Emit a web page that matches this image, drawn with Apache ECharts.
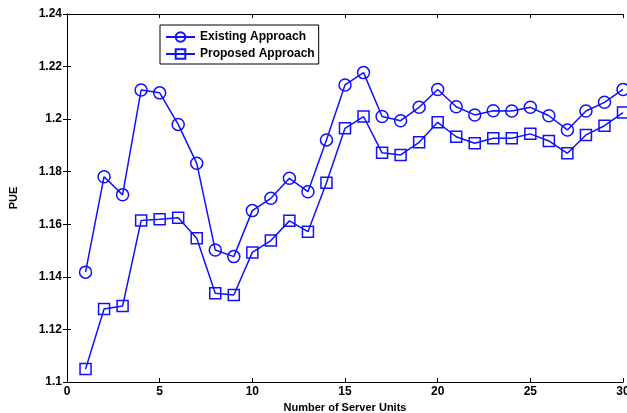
<!DOCTYPE html>
<html>
<head>
<meta charset="utf-8">
<script src="https://cdn.jsdelivr.net/npm/echarts@6/dist/echarts.min.js"></script>
<style>
  html, body { margin: 0; padding: 0; background: #fff; }
  #chart { width: 627px; height: 413px; }
</style>
</head>
<body>
<div id="chart"></div>
<script>
const serverUnits = [1, 2, 3, 4, 5, 6, 7, 8, 9, 10, 11, 12, 13, 14, 15,
  16, 17, 18, 19, 20, 21, 22, 23, 24, 25, 26, 27, 28, 29, 30];
const existingPUE = [1.1418, 1.1781, 1.1712, 1.2111, 1.2100, 1.1980, 1.1832, 1.1502, 1.1477, 1.1652,
  1.1699, 1.1775, 1.1724, 1.1921, 1.2130, 1.2177, 1.2010, 1.1994, 1.2045, 1.2113,
  1.2047, 1.2016, 1.2032, 1.2031, 1.2045, 1.2013, 1.1959, 1.2031, 1.2064, 1.2113];
const proposedPUE = [1.1049, 1.1278, 1.1289, 1.1614, 1.1619, 1.1625, 1.1547, 1.1338, 1.1331, 1.1493,
  1.1538, 1.1613, 1.1572, 1.1758, 1.1965, 1.2010, 1.1872, 1.1864, 1.1912, 1.1988,
  1.1933, 1.1908, 1.1927, 1.1927, 1.1944, 1.1917, 1.1870, 1.1940, 1.1975, 1.2025];
const seriesNames = ["Existing Approach", "Proposed Approach"];

const blue = "#1010ff";
const font = "'Liberation Sans', Arial, sans-serif";

const chart = echarts.init(document.getElementById("chart"));

const mkSeries = (name, values, symbol, size) => ({
  name: name,
  type: "line",
  data: serverUnits.map((x, i) => [x, values[i]]),
  symbol: symbol,
  symbolSize: size,
  showAllSymbol: true,
  lineStyle: { color: blue, width: 1.5 },
  itemStyle: { color: "transparent", borderColor: blue, borderWidth: 1.5 },
  emphasis: { disabled: true },
  animation: false,
});

const frameAxis = {
  axisLine: { show: true, lineStyle: { color: "#000", width: 1 } },
  axisTick: { show: true, inside: true, length: 4, lineStyle: { color: "#000" } },
  splitLine: { show: false },
};

chart.setOption({
  backgroundColor: "#fff",
  grid: { left: 67, right: 4, top: 14, bottom: 31, outerBoundsMode: "none", containLabel: false },
  legend: {
    left: 160,
    top: 25,
    orient: "vertical",
    itemGap: 5,
    itemWidth: 29,
    itemHeight: 12,
    padding: [6, 4, 4, 5],
    borderColor: "#000",
    borderWidth: 1,
    backgroundColor: "#fff",
    textStyle: { fontFamily: font, fontWeight: "bold", fontSize: 12, color: "#000" },
    data: seriesNames,
  },
  xAxis: [
    Object.assign({
      type: "value",
      min: 0, max: 30, interval: 5,
      name: "Number of Server Units",
      nameLocation: "middle",
      nameGap: 18,
      nameTextStyle: { fontFamily: font, fontWeight: "bold", fontSize: 11, color: "#000" },
      axisLabel: { fontFamily: font, fontWeight: "bold", fontSize: 12, color: "#000", margin: 4 },
    }, frameAxis),
    Object.assign({
      type: "value", position: "top",
      min: 0, max: 30, interval: 5,
      axisLabel: { show: false },
    }, frameAxis),
  ],
  yAxis: [
    Object.assign({
      type: "value",
      min: 1.1, max: 1.24, interval: 0.02,
      name: "PUE",
      nameLocation: "middle",
      nameGap: 48,
      nameTextStyle: { fontFamily: font, fontWeight: "bold", fontSize: 11, color: "#000" },
      axisLabel: { fontFamily: font, fontWeight: "bold", fontSize: 12, color: "#000", margin: 5 },
    }, frameAxis),
    Object.assign({
      type: "value", position: "right",
      min: 1.1, max: 1.24, interval: 0.02,
      axisLabel: { show: false },
    }, frameAxis),
  ],
  series: [
    mkSeries(seriesNames[0], existingPUE, "circle", 12),
    mkSeries(seriesNames[1], proposedPUE, "rect", 11),
  ],
});
</script>
</body>
</html>
